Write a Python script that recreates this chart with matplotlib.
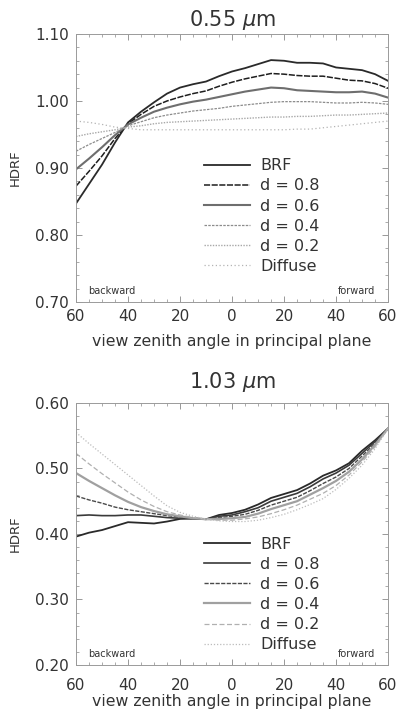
import numpy as np
import matplotlib
matplotlib.use("Agg")
import matplotlib.pyplot as plt
from matplotlib.ticker import MultipleLocator, FuncFormatter

# view zenith angle (negative = backward)
angles = list(range(-60, 61, 5))

# 0.55 um
brf_055 = [0.847, 0.876, 0.905, 0.938, 0.968, 0.984, 0.998, 1.011, 1.020, 1.025, 1.029, 1.037, 1.044,
           1.049, 1.055, 1.061, 1.060, 1.057, 1.057, 1.056, 1.050, 1.048, 1.046, 1.040, 1.030]
d08_055 = [0.873, 0.895, 0.918, 0.944, 0.966, 0.980, 0.992, 1.000, 1.006, 1.011, 1.015, 1.022, 1.028,
           1.033, 1.037, 1.041, 1.040, 1.038, 1.037, 1.037, 1.034, 1.031, 1.030, 1.026, 1.019]
d06_055 = [0.898, 0.914, 0.931, 0.949, 0.965, 0.975, 0.984, 0.990, 0.995, 0.999, 1.002, 1.006, 1.010,
           1.014, 1.017, 1.020, 1.019, 1.016, 1.015, 1.014, 1.013, 1.013, 1.014, 1.011, 1.005]
d04_055 = [0.925, 0.935, 0.944, 0.953, 0.963, 0.969, 0.975, 0.979, 0.982, 0.985, 0.987, 0.989, 0.992,
           0.994, 0.996, 0.998, 0.999, 0.999, 0.999, 0.998, 0.997, 0.997, 0.998, 0.997, 0.995]
d02_055 = [0.947, 0.951, 0.954, 0.957, 0.961, 0.963, 0.966, 0.968, 0.969, 0.970, 0.971, 0.972, 0.973,
           0.974, 0.975, 0.976, 0.976, 0.977, 0.977, 0.978, 0.979, 0.979, 0.980, 0.981, 0.982]
dif_055 = [0.970, 0.968, 0.965, 0.961, 0.959, 0.957, 0.957, 0.957, 0.957, 0.957, 0.957, 0.957, 0.957,
           0.957, 0.957, 0.957, 0.957, 0.958, 0.958, 0.960, 0.962, 0.964, 0.966, 0.968, 0.970]

# 1.03 um
brf_103 = [0.396, 0.402, 0.406, 0.412, 0.418, 0.417, 0.416, 0.419, 0.423, 0.424, 0.4225, 0.429, 0.432,
           0.437, 0.445, 0.455, 0.461, 0.467, 0.477, 0.489, 0.497, 0.508, 0.527, 0.543, 0.561]
d08_103 = [0.428, 0.429, 0.428, 0.428, 0.429, 0.429, 0.427, 0.425, 0.424, 0.423, 0.4225, 0.427, 0.429,
           0.434, 0.440, 0.450, 0.456, 0.462, 0.472, 0.484, 0.493, 0.505, 0.523, 0.541, 0.561]
d06_103 = [0.458, 0.452, 0.447, 0.441, 0.437, 0.434, 0.431, 0.428, 0.426, 0.424, 0.4225, 0.425, 0.427,
           0.430, 0.436, 0.444, 0.450, 0.456, 0.466, 0.477, 0.487, 0.500, 0.519, 0.538, 0.561]
d04_103 = [0.493, 0.481, 0.470, 0.459, 0.449, 0.441, 0.435, 0.430, 0.427, 0.424, 0.4225, 0.423, 0.424,
           0.426, 0.431, 0.438, 0.444, 0.450, 0.460, 0.470, 0.481, 0.495, 0.514, 0.536, 0.561]
d02_103 = [0.523, 0.507, 0.492, 0.478, 0.464, 0.452, 0.442, 0.434, 0.429, 0.425, 0.4225, 0.421, 0.421,
           0.423, 0.426, 0.431, 0.437, 0.444, 0.453, 0.462, 0.474, 0.490, 0.510, 0.533, 0.561]
dif_103 = [0.555, 0.538, 0.522, 0.506, 0.490, 0.474, 0.458, 0.443, 0.433, 0.427, 0.4225, 0.420, 0.419,
           0.419, 0.421, 0.425, 0.430, 0.437, 0.445, 0.454, 0.468, 0.485, 0.505, 0.530, 0.561]

labels = ["BRF", "d = 0.8", "d = 0.6", "d = 0.4", "d = 0.2", "Diffuse"]

styles_top = [
    dict(color="#2a2a2a", lw=1.3, ls="-"),
    dict(color="#1e1e1e", lw=1.1, ls=(0, (4, 1))),
    dict(color="#6e6e6e", lw=1.5, ls="-"),
    dict(color="#8c8c8c", lw=0.9, ls=(0, (2, 1))),
    dict(color="#a8a8a8", lw=1.0, ls=(0, (1, 1))),
    dict(color="#b4b4b4", lw=0.9, ls=(0, (1, 2))),
]
styles_bot = [
    dict(color="#2a2a2a", lw=1.3, ls="-"),
    dict(color="#3a3a3a", lw=1.2, ls="-"),
    dict(color="#4a4a4a", lw=1.0, ls=(0, (3, 1))),
    dict(color="#a0a0a0", lw=1.6, ls="-"),
    dict(color="#b0b0b0", lw=0.9, ls=(0, (4, 2))),
    dict(color="#bcbcbc", lw=0.9, ls=(0, (1, 1.5))),
]

fig = plt.figure(figsize=(3.98, 7.18), dpi=100)
ax1 = fig.add_axes([0.191, 0.5794, 0.784, 0.3733])
ax2 = fig.add_axes([0.191, 0.0738, 0.784, 0.365])

panels = [
    (ax1, [brf_055, d08_055, d06_055, d04_055, d02_055, dif_055], styles_top,
     "0.55 $\\mu$m", (0.70, 1.10), 6, 5, 7, 0.56),
    (ax2, [brf_103, d08_103, d06_103, d04_103, d02_103, dif_103], styles_bot,
     "1.03 $\\mu$m", (0.20, 0.60), 11, 9, 1, 0.514),
]

txt = "#333333"
for ax, series, styles, title, ylim, tpad, xpad, lpad, leg_y in panels:
    for vals, lab, st in zip(series, labels, styles):
        ax.plot(angles, vals, label=lab, **st)
    ax.set_xlim(-60, 60)
    ax.set_ylim(*ylim)
    ax.xaxis.set_major_locator(MultipleLocator(20))
    ax.xaxis.set_minor_locator(MultipleLocator(5))
    ax.yaxis.set_major_locator(MultipleLocator(0.10))
    ax.yaxis.set_minor_locator(MultipleLocator(0.02))
    ax.xaxis.set_major_formatter(FuncFormatter(lambda v, p: f"{abs(v):.0f}"))
    ax.yaxis.set_major_formatter(FuncFormatter(lambda v, p: f"{v:.2f}"))
    ax.tick_params(which="both", direction="in", top=True, right=True, colors="#888888",
                   labelcolor=txt, labelsize=11)
    ax.tick_params(which="major", length=4, width=0.6, pad=5)
    ax.tick_params(which="minor", length=2, width=0.5)
    ax.tick_params(axis="x", which="major", pad=xpad)
    for sp in ax.spines.values():
        sp.set_color("#9a9a9a")
        sp.set_linewidth(0.7)
    ax.set_title(title, fontsize=15, color=txt, pad=tpad)
    ax.set_xlabel("view zenith angle in principal plane", fontsize=11.3, color=txt, labelpad=lpad)
    ax.set_ylabel("HDRF", fontsize=9.5, color=txt)
    ax.yaxis.set_label_coords(-0.175, 0.5)
    ax.text(0.04, 0.03, "backward", transform=ax.transAxes, fontsize=7, color=txt)
    ax.text(0.96, 0.03, "forward", transform=ax.transAxes, fontsize=7, color=txt, ha="right")
    ax.legend(loc="upper left", bbox_to_anchor=(0.39, leg_y), frameon=False, fontsize=11.5,
              handlelength=2.9, handletextpad=0.6, labelspacing=0.32, borderaxespad=0,
              labelcolor=txt)

fig.savefig("out.png", dpi=100)
